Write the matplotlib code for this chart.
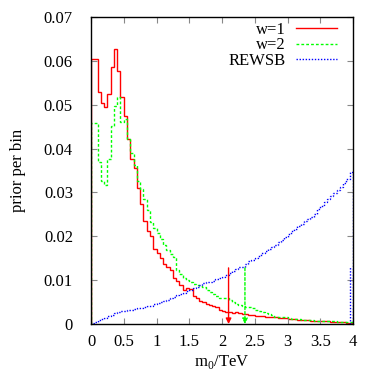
import numpy as np
import matplotlib
matplotlib.use("Agg")
import matplotlib.pyplot as plt

# bins of 0.05 TeV from 0 to 4 TeV
edges = np.linspace(0, 4, 81)

w1 = [0.0605, 0.0605, 0.0530, 0.0503, 0.0495, 0.0524, 0.0587, 0.0627, 0.0578, 0.0518,
      0.0474, 0.0421, 0.0376, 0.0355, 0.0311, 0.0273, 0.0235, 0.0212, 0.0201, 0.0170,
      0.0161, 0.0150, 0.0136, 0.0130, 0.0123, 0.0105, 0.0098, 0.0090, 0.0078, 0.0081,
      0.0080, 0.0065, 0.0060, 0.0052, 0.0050, 0.0046, 0.0044, 0.0040, 0.0038, 0.0033,
      0.0029, 0.0028, 0.0028, 0.0026, 0.0027, 0.0024, 0.0023, 0.0022, 0.0021, 0.0020,
      0.0019, 0.0018, 0.0018, 0.0017, 0.0016, 0.0015, 0.0015, 0.0014, 0.0013, 0.0013,
      0.0012, 0.0011, 0.0011, 0.0010, 0.0010, 0.0009, 0.0009, 0.0008, 0.0008, 0.0007,
      0.0007, 0.0006, 0.0006, 0.0005, 0.0005, 0.0005, 0.0004, 0.0004, 0.0003, 0.0003]

w2 = [0.0458, 0.0458, 0.0369, 0.0327, 0.0318, 0.0376, 0.0451, 0.0498, 0.0518, 0.0460,
      0.0467, 0.0422, 0.0391, 0.0362, 0.0327, 0.0308, 0.0285, 0.0260, 0.0232, 0.0218,
      0.0207, 0.0195, 0.0180, 0.0169, 0.0160, 0.0152, 0.0123, 0.0115, 0.0106, 0.0100,
      0.0096, 0.0092, 0.0089, 0.0086, 0.0085, 0.0078, 0.0072, 0.0068, 0.0064, 0.0060,
      0.0059, 0.0059, 0.0055, 0.0051, 0.0045, 0.0043, 0.0042, 0.0039, 0.0039, 0.0036,
      0.0032, 0.0030, 0.0028, 0.0024, 0.0022, 0.0020, 0.0017, 0.0017, 0.0016, 0.0015,
      0.0013, 0.0012, 0.0011, 0.0011, 0.0010, 0.0010, 0.0009, 0.0009, 0.0008, 0.0008,
      0.0008, 0.0007, 0.0007, 0.0006, 0.0006, 0.0005, 0.0005, 0.0005, 0.0004, 0.0004]

rewsb = [0.0002, 0.0005, 0.0009, 0.0012, 0.0014, 0.0018, 0.0021, 0.0025, 0.0028, 0.0030,
         0.0030, 0.0031, 0.0033, 0.0034, 0.0036, 0.0037, 0.0039, 0.0041, 0.0042, 0.0045,
         0.0047, 0.0050, 0.0052, 0.0055, 0.0059, 0.0062, 0.0066, 0.0068, 0.0071, 0.0075,
         0.0078, 0.0082, 0.0085, 0.0089, 0.0093, 0.0095, 0.0096, 0.0099, 0.0103, 0.0104,
         0.0108, 0.0112, 0.0116, 0.0120, 0.0125, 0.0129, 0.0131, 0.0138, 0.0143, 0.0147,
         0.0151, 0.0156, 0.0162, 0.0166, 0.0171, 0.0176, 0.0181, 0.0187, 0.0192, 0.0199,
         0.0206, 0.0212, 0.0216, 0.0223, 0.0229, 0.0234, 0.0239, 0.0245, 0.0252, 0.0262,
         0.0270, 0.0278, 0.0285, 0.0292, 0.0298, 0.0305, 0.0312, 0.0321, 0.0330, 0.0347]

# extra REWSB edge spike and the median arrows
rewsb_edge_x = 3.95
rewsb_edge_y = 0.013
arrow_x = [2.10, 2.35]
arrow_top = [0.0128, 0.0128]

labels = ["w=1", "w=2", "REWSB"]
colors = ["#ff0000", "#00ff00", "#0000ff"]
styles = ["-", (0, (2, 1.5)), (0, (1, 1.2))]

plt.rcParams["font.family"] = ["Liberation Serif", "DejaVu Serif"]
plt.rcParams["mathtext.fontset"] = "custom"
plt.rcParams["mathtext.rm"] = "Liberation Serif"

fig = plt.figure(figsize=(3.8, 3.72), dpi=100)
ax = fig.add_axes([0.2395, 0.129, 0.6895, 0.825])

for vals, lab, c, ls in zip([w1, w2, rewsb], labels, colors, styles):
    ax.stairs(vals, edges, baseline=0, color=c, linestyle=ls, linewidth=1.0, label=lab)

ax.vlines(rewsb_edge_x, 0, rewsb_edge_y, color=colors[2], linestyle=styles[2], linewidth=1.0)

for xa, ya, c, ls in zip(arrow_x, arrow_top, colors[:2], styles[:2]):
    ax.annotate("", xy=(xa, 0), xytext=(xa, ya),
                arrowprops=dict(arrowstyle="-|>", color=c, linestyle=ls, lw=1.0,
                                mutation_scale=8, shrinkA=0, shrinkB=0))

ax.set_xlim(0, 4)
ax.set_ylim(0, 0.07)
ax.set_xticks(np.arange(0, 4.01, 0.5))
ax.set_xticklabels(["0", "0.5", "1", "1.5", "2", "2.5", "3", "3.5", "4"])
ax.set_yticks(np.arange(0, 0.0701, 0.01))
ax.set_yticklabels(["0", "0.01", "0.02", "0.03", "0.04", "0.05", "0.06", "0.07"])
ax.tick_params(direction="in", top=True, right=True, length=4, width=0.8,
               color="#888888", labelsize=12)
ax.tick_params(axis="x", pad=7)
ax.tick_params(axis="y", pad=13)
for s in ax.spines.values():
    s.set_linewidth(1.0)

ax.set_xlabel("m$_0$/TeV", fontsize=12, labelpad=2)
ax.set_ylabel("prior per bin", fontsize=12, labelpad=13)

ax.legend(loc="upper right", frameon=False, markerfirst=False, fontsize=12,
          handlelength=2.5, handletextpad=0.6, labelspacing=-0.05,
          borderaxespad=0.0, bbox_to_anchor=(0.965, 1.005))

fig.savefig("out.png", dpi=100)
